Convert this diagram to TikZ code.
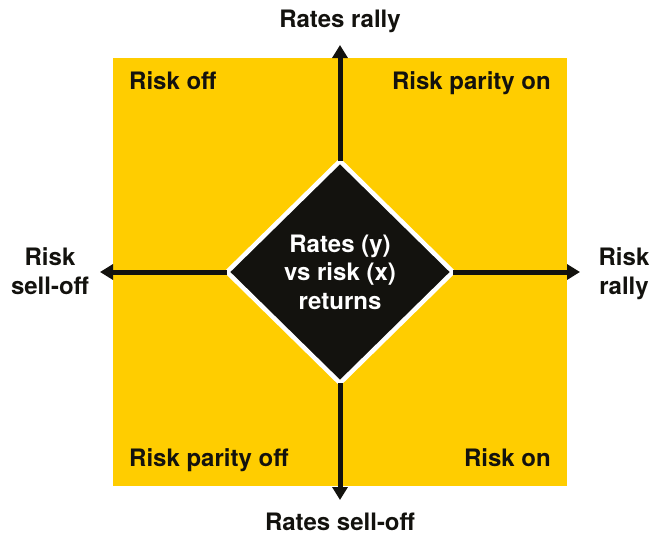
\documentclass[tikz,border=0pt]{standalone}
\usepackage{fontspec}
\setmainfont{TeX Gyre Heros}
\usetikzlibrary{shapes.geometric,arrows.meta}
\definecolor{ryellow}{RGB}{255,205,0}
\definecolor{rblack}{RGB}{19,18,14}

\begin{document}
\begin{tikzpicture}[x=1pt,y=-1pt,
  lbl/.style={font=\bfseries\fontsize{24}{28.5}\selectfont, text=rblack, inner sep=0pt, align=center},
  axis/.style={draw=rblack, line width=5pt, -{Triangle[width=15pt,length=13pt]}}]
\useasboundingbox (0,0) rectangle (650,536);
\fill[ryellow] (113,58) rectangle (567,486);
% centre diamond
\node[diamond, aspect=1, fill=rblack, draw=white, line width=4.5pt, minimum width=226pt, minimum height=222pt,
  inner sep=0pt, outer sep=0pt, lbl, text=white] (core) at (340,272) {Rates (y)\\vs risk (x)\\returns};
% axes
\coordinate (ytop) at (340,45);
\coordinate (ybot) at (340,500);
\coordinate (xleft) at (100,272);
\coordinate (xright) at (580,272);
\draw[axis] (core.north) -- (ytop);
\draw[axis] (core.south) -- (ybot);
\draw[axis] (core.west) -- (xleft);
\draw[axis] (core.east) -- (xright);
% axis labels
\node[lbl, anchor=base] (rally) at (340,27) {Rates rally};
\node[lbl, anchor=base] (selloff) at (340,530) {Rates sell-off};
\node[lbl, anchor=base] (riskoff) at (50,294) {Risk\\sell-off};
\node[lbl, anchor=base] (riskup) at (624,294) {Risk\\rally};
% quadrants
\node[lbl, anchor=base west] (qtl) at (129,89) {Risk off};
\node[lbl, anchor=base east] (qtr) at (551,89) {Risk parity on};
\node[lbl, anchor=base west] (qbl) at (129,466) {Risk parity off};
\node[lbl, anchor=base east] (qbr) at (551,466) {Risk on};
\end{tikzpicture}
\end{document}
